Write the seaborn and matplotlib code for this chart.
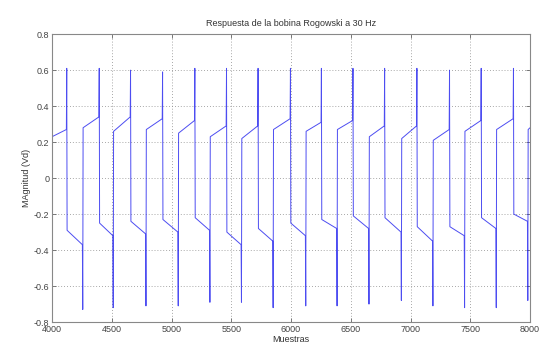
import numpy as np
import seaborn as sns
import matplotlib
matplotlib.use("Agg")
import matplotlib.pyplot as plt

# === Datos (muestras y amplitud) ===
pos_spike_x = [4123, 4395, 4657, 4925, 5195, 5460, 5724, 5995, 6254, 6518, 6783, 7053, 7326, 7591, 7861]
pos_peak = [0.61, 0.61, 0.60, 0.59, 0.61, 0.61, 0.61, 0.61, 0.61, 0.61, 0.61, 0.61, 0.60, 0.61, 0.61]
neg_spike_x = [4257, 4512, 4786, 5056, 5321, 5585, 5850, 6123, 6385, 6652, 6923, 7187, 7452, 7717, 7981]
neg_peak = [-0.73, -0.72, -0.71, -0.71, -0.69, -0.69, -0.72, -0.71, -0.71, -0.70, -0.68, -0.71, -0.72, -0.72, -0.68]

# meseta positiva (inicio / fin) antes de cada pico positivo
pos_start = [0.23, 0.28, 0.26, 0.27, 0.25, 0.23, 0.22, 0.27, 0.26, 0.27, 0.23, 0.22, 0.21, 0.26, 0.27]
pos_end = [0.27, 0.34, 0.34, 0.33, 0.32, 0.29, 0.29, 0.33, 0.31, 0.32, 0.29, 0.29, 0.27, 0.32, 0.33]
# meseta negativa (inicio / fin) antes de cada pico negativo
neg_start = [-0.29, -0.25, -0.24, -0.23, -0.22, -0.30, -0.28, -0.25, -0.23, -0.21, -0.22, -0.27, -0.27, -0.22, -0.20]
neg_end = [-0.37, -0.32, -0.31, -0.30, -0.29, -0.37, -0.35, -0.32, -0.28, -0.28, -0.30, -0.35, -0.32, -0.28, -0.24]
tail_start, tail_end = 0.27, 0.28

x_ticks = [4000, 4500, 5000, 5500, 6000, 6500, 7000, 7500, 8000]
y_ticks = [-0.8, -0.6, -0.4, -0.2, 0, 0.2, 0.4, 0.6, 0.8]
y_labels = ["-0.8", "-0.6", "-0.4", "-0.2", "0", "0.2", "0.4", "0.6", "0.8"]

# === Construccion de la forma de onda ===
xs, ys = [4000], [pos_start[0]]
for k in range(len(pos_spike_x)):
    P, N = pos_spike_x[k], neg_spike_x[k]
    nxt = pos_start[k + 1] if k + 1 < len(pos_start) else tail_start
    xs += [P - 3, P, P + 3, N - 3, N, N + 3]
    ys += [pos_end[k], pos_peak[k], neg_start[k], neg_end[k], neg_peak[k], nxt]
xs.append(8000)
ys.append(tail_end)

# === Grafica ===
sns.set_style("white")
plt.rcParams["font.family"] = ["Liberation Sans", "DejaVu Sans"]

fig = plt.figure(figsize=(5.42, 3.52), dpi=100)
ax = fig.add_axes([0.096, 0.085, 0.882, 0.818])
sns.lineplot(x=xs, y=ys, color="#2020ee", alpha=0.8, linewidth=0.7, ax=ax)

ax.set_xlim(4000, 8000)
ax.set_ylim(-0.8, 0.8)
ax.set_xticks(x_ticks)
ax.set_xticklabels([str(t) for t in x_ticks])
ax.set_yticks(y_ticks)
ax.set_yticklabels(y_labels)
ax.grid(True, linestyle=(0, (1, 2.5)), color="#8a8a8a", linewidth=0.6)
ax.tick_params(direction="in", length=3, width=0.6, colors="#666666",
               labelsize=6.5, labelcolor="#444444", top=True, right=True,
               bottom=True, left=True, pad=2)
for s in ax.spines.values():
    s.set_color("#888888")
    s.set_linewidth(0.8)

ax.set_title("Respuesta de la bobina Rogowski a 30 Hz", fontsize=6.5, color="#333333", pad=6)
ax.set_xlabel("Muestras", fontsize=6.5, color="#333333", labelpad=1)
ax.set_ylabel("MAgnitud (Vd)", fontsize=6.5, color="#333333", labelpad=2)

fig.savefig("out.png", dpi=100)
